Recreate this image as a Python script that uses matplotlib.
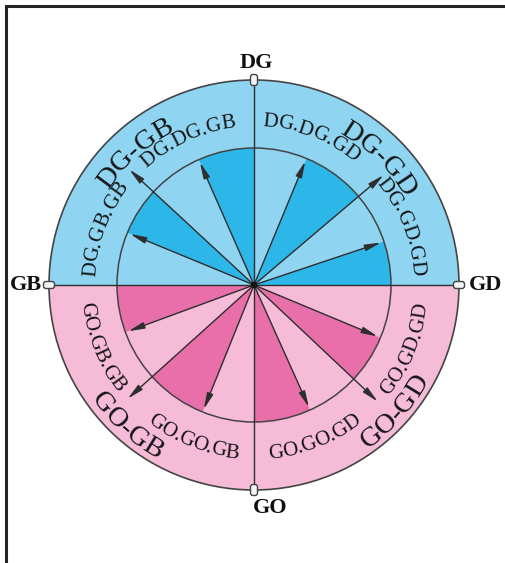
import numpy as np
import matplotlib
matplotlib.use("Agg")
import matplotlib.pyplot as plt
from matplotlib.patches import Wedge, Circle, FancyBboxPatch, FancyArrowPatch
from matplotlib.textpath import TextToPath
from matplotlib.font_manager import FontProperties

# ---------------- data ----------------
cardinal_labels = ["DG", "GD", "GO", "GB"]
cardinal_angles = [90, 0, 270, 180]

short_arrow_angles = [18.5, 67.5, 113.8, 157.6, 200.2, 248.0, 294.2, 337.4]
long_arrow_angles = [40.3, 137.2, 222.0, 316.7]

sector_bounds = [0, 18.5, 40.3, 67.5, 90, 113.8, 137.2, 157.6, 180,
                 200.2, 222.0, 248.0, 270, 294.2, 316.7, 337.4, 360]

small_labels = ["DG.GD.GD", "DG.DG.GD", "DG.DG.GB", "DG.GB.GB",
                "GO.GB.GB", "GO.GO.GB", "GO.GO.GD", "GO.GD.GD"]
small_label_angles = [21.5, 69.0, 114.5, 159.5, 202.0, 248.5, 291.5, 337.0]

big_labels = ["DG-GD", "DG-GB", "GO-GB", "GO-GD"]
big_label_angles = [45.5, 132.0, 228.0, 318.0]

# ---------------- style ----------------
W, H = 506, 563
CX, CY = 254, H - 285
R_OUT, R_IN = 205, 137
BLUE_L, BLUE_D = "#8fd4f1", "#2cb7e8"
PINK_L, PINK_D = "#f5bbd7", "#e96fab"
LINE = "#2e2e2e"
SERIF = "Liberation Serif"

fig = plt.figure(figsize=(W / 100, H / 100), dpi=100)
ax = fig.add_axes([0, 0, 1, 1])
ax.set_xlim(0, W)
ax.set_ylim(0, H)
ax.axis("off")

# frame (left and top lines)
ax.plot([6, 6], [0, H - 6], color="#222222", lw=2.2, solid_capstyle="projecting")
ax.plot([6, W], [H - 6, H - 6], color="#222222", lw=2.2, solid_capstyle="projecting")

# outer ring halves
ax.add_patch(Wedge((CX, CY), R_OUT, 0, 180, facecolor=BLUE_L, edgecolor="none"))
ax.add_patch(Wedge((CX, CY), R_OUT, 180, 360, facecolor=PINK_L, edgecolor="none"))

# inner sectors
for i in range(len(sector_bounds) - 1):
    a1, a2 = sector_bounds[i], sector_bounds[i + 1]
    upper = a1 < 180
    if i % 2 == 0:
        col = BLUE_D if upper else PINK_D
    else:
        col = BLUE_L if upper else PINK_L
    ax.add_patch(Wedge((CX, CY), R_IN, a1, a2, facecolor=col, edgecolor="none"))

# circles
ax.add_patch(Circle((CX, CY), R_OUT, facecolor="none", edgecolor="#444444", lw=1.2))
ax.add_patch(Circle((CX, CY), R_IN, facecolor="none", edgecolor="#444444", lw=1.1))

# axes lines
ax.plot([CX - R_OUT, CX + R_OUT], [CY, CY], color=LINE, lw=1.0)
ax.plot([CX, CX], [CY - R_OUT, CY + R_OUT], color=LINE, lw=1.0)


def arrow(angle, r):
    t = np.deg2rad(angle)
    x, y = CX + r * np.cos(t), CY + r * np.sin(t)
    ax.add_patch(FancyArrowPatch((CX, CY), (x, y),
                                 arrowstyle="-|>,head_length=0.8,head_width=0.16",
                                 mutation_scale=12, color=LINE, lw=1.0,
                                 shrinkA=0, shrinkB=0))


for a in short_arrow_angles:
    arrow(a, 134)
for a in long_arrow_angles:
    arrow(a, 170)

ax.add_patch(Circle((CX, CY), 3.2, facecolor="#111111", edgecolor="none", zorder=5))

# tabs at cardinal points
for a in cardinal_angles:
    t = np.deg2rad(a)
    x, y = CX + R_OUT * np.cos(t), CY + R_OUT * np.sin(t)
    if a in (90, 270):
        w, h = 7, 11
    else:
        w, h = 11, 7
    ax.add_patch(FancyBboxPatch((x - w / 2, y - h / 2), w, h,
                                boxstyle="round,pad=0,rounding_size=2.5",
                                facecolor="#f4f4f4", edgecolor="#444444", lw=1.0, zorder=4))

# cardinal labels
card_pos = {90: (CX + 2, CY + R_OUT + 17), 0: (CX + R_OUT + 27, CY),
            270: (CX + 16, CY - R_OUT - 18), 180: (CX - R_OUT - 23, CY)}
for lab, a in zip(cardinal_labels, cardinal_angles):
    x, y = card_pos[a]
    ax.text(x, y, lab, ha="center", va="center", fontsize=16,
            fontweight="bold", family=SERIF, color="#111111")

t2p = TextToPath()


def arc_text(s, angle_c, r_base, size, upper):
    prop = FontProperties(family=SERIF, size=size)
    k = 100 / 72.0
    total = t2p.get_text_width_height_descent(s, prop, ismath=False)[0] * k
    for i, ch in enumerate(s):
        wpre = t2p.get_text_width_height_descent(s[:i + 1], prop, ismath=False)[0] * k
        wch = t2p.get_text_width_height_descent(ch, prop, ismath=False)[0] * k
        sc = wpre - wch / 2.0
        if upper:
            th = np.deg2rad(angle_c) + total / (2 * r_base) - sc / r_base
            rot = np.rad2deg(th) - 90
        else:
            th = np.deg2rad(angle_c) - total / (2 * r_base) + sc / r_base
            rot = np.rad2deg(th) + 90
        x, y = CX + r_base * np.cos(th), CY + r_base * np.sin(th)
        ax.text(x, y, ch, rotation=rot, rotation_mode="anchor", ha="center",
                va="baseline", fontproperties=prop, color="#151515", zorder=6)


for s, a in zip(small_labels, small_label_angles):
    up = a < 180
    arc_text(s, a, 159 if up else 174, 15, up)

for s, a in zip(big_labels, big_label_angles):
    up = a < 180
    arc_text(s, a, 174 if up else 199, 20.5, up)

fig.savefig("out.png", dpi=100, facecolor="white")
